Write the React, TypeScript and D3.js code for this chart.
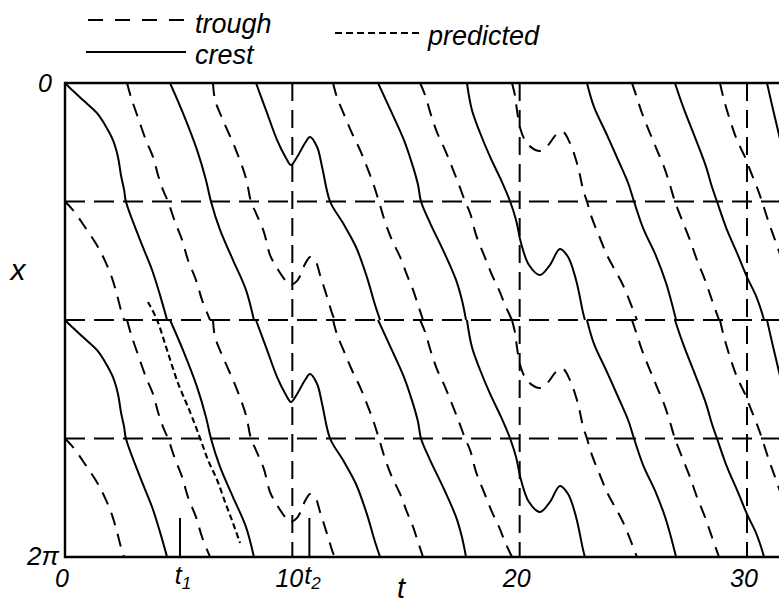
import React from "react";
import * as d3 from "d3";

// Curves for one half-period band (x from 0 to π).
// Each point is [t, x/π]. The band pattern repeats with period π in x.
const crestHalf: [number, number][][] = [
  [[0, 0], [0.22, 0.021], [0.79, 0.072], [1.41, 0.127], [1.76, 0.177], [2.11, 0.241], [2.33, 0.312], [2.46, 0.388], [2.6, 0.451], [2.68, 0.5], [3.3, 0.662], [3.83, 0.789], [4.18, 0.895], [4.49, 1.0]],
  [[4.62, 0], [5.19, 0.127], [5.81, 0.283], [6.2, 0.409], [6.42, 0.5], [6.82, 0.62], [7.39, 0.747], [7.96, 0.873], [8.31, 1.0]],
  [[8.4, 0], [8.89, 0.127], [9.33, 0.241], [9.72, 0.316], [9.94, 0.346], [10.21, 0.312], [10.56, 0.253], [10.78, 0.228], [11.09, 0.27], [11.31, 0.354], [11.66, 0.5], [12.23, 0.591], [12.8, 0.692], [13.28, 0.819], [13.64, 0.937], [13.86, 1.0]],
  [[13.77, 0], [14.38, 0.127], [14.91, 0.241], [15.31, 0.354], [15.53, 0.43], [15.66, 0.5], [16.06, 0.591], [16.63, 0.705], [17.2, 0.831], [17.46, 0.916], [17.64, 1.0]],
  [[17.68, 0], [17.9, 0.114], [18.26, 0.211], [18.7, 0.312], [19.18, 0.409], [19.58, 0.5], [19.84, 0.578], [20.06, 0.675], [20.41, 0.768], [20.89, 0.81], [21.33, 0.768], [21.77, 0.7], [22.13, 0.734], [22.48, 0.831], [22.79, 0.97], [22.87, 1.0]],
  [[22.96, 0], [23.27, 0.101], [23.8, 0.211], [24.33, 0.325], [24.77, 0.422], [25.03, 0.5], [25.43, 0.612], [26.0, 0.73], [26.44, 0.844], [26.88, 1.0]],
  [[26.83, 0], [27.19, 0.101], [27.76, 0.241], [28.2, 0.354], [28.46, 0.439], [28.68, 0.5], [29.12, 0.62], [29.56, 0.717], [30.0, 0.819], [30.4, 0.899], [30.6, 0.952], [30.75, 1.0]],
  [[30.88, 0], [31.15, 0.114], [31.41, 0.219], [31.67, 0.325]],
];

const troughHalf: [number, number][][] = [
  [[0, 0.5], [0.35, 0.536], [0.88, 0.608], [1.45, 0.692], [1.8, 0.759], [2.07, 0.823], [2.29, 0.895], [2.46, 0.958], [2.6, 1.0]],
  [[2.73, 0], [2.9, 0.059], [3.17, 0.135], [3.56, 0.241], [3.87, 0.312], [4.09, 0.388], [4.31, 0.451], [4.53, 0.5], [4.84, 0.586], [5.15, 0.662], [5.41, 0.747], [5.76, 0.831], [6.03, 0.916], [6.29, 0.979], [6.38, 1.0]],
  [[6.51, 0], [6.6, 0.072], [6.91, 0.148], [7.52, 0.283], [7.96, 0.401], [8.18, 0.5], [8.4, 0.549], [8.75, 0.629], [9.02, 0.726], [9.33, 0.781], [9.68, 0.831], [9.9, 0.852], [10.21, 0.835], [10.56, 0.764], [10.78, 0.734], [11.0, 0.747], [11.22, 0.81], [11.53, 0.903], [11.79, 0.983], [11.88, 1.0]],
  [[11.79, 0], [11.96, 0.059], [12.32, 0.143], [12.62, 0.211], [12.98, 0.283], [13.28, 0.354], [13.55, 0.422], [13.81, 0.5], [14.08, 0.586], [14.38, 0.662], [14.74, 0.734], [15.04, 0.81], [15.31, 0.873], [15.53, 0.937], [15.75, 1.0]],
  [[15.62, 0], [15.84, 0.051], [16.1, 0.135], [16.36, 0.207], [16.72, 0.283], [17.02, 0.354], [17.33, 0.43], [17.6, 0.5], [17.82, 0.549], [18.08, 0.641], [18.48, 0.738], [18.78, 0.81], [19.09, 0.873], [19.36, 0.937], [19.66, 1.0]],
  [[19.66, 0], [19.79, 0.051], [19.88, 0.114], [20.02, 0.19], [20.23, 0.241], [20.54, 0.274], [20.89, 0.287], [21.25, 0.262], [21.6, 0.219], [21.91, 0.207], [22.21, 0.253], [22.48, 0.325], [22.65, 0.388], [22.79, 0.451], [22.96, 0.5], [23.18, 0.57], [23.53, 0.654], [23.84, 0.726], [24.19, 0.789], [24.5, 0.844], [24.77, 0.903], [24.99, 0.958], [25.16, 1.0]],
  [[24.94, 0], [25.12, 0.051], [25.38, 0.127], [25.73, 0.211], [26.04, 0.283], [26.35, 0.354], [26.61, 0.43], [26.83, 0.5], [27.14, 0.578], [27.49, 0.662], [27.8, 0.747], [28.15, 0.831], [28.46, 0.916], [28.77, 1.0]],
  [[28.81, 0], [28.99, 0.072], [29.25, 0.156], [29.56, 0.241], [29.91, 0.312], [30.22, 0.388], [30.48, 0.451], [30.66, 0.5], [30.92, 0.578], [31.23, 0.662], [31.54, 0.747]],
];

// predicted trough path (lower band only)
const predicted: [number, number][] = [
  [3.65, 0.924], [4.05, 1.0], [4.49, 1.127], [4.97, 1.266], [5.5, 1.388], [5.94, 1.498], [6.29, 1.591], [6.69, 1.675], [7.04, 1.768], [7.39, 1.857], [7.7, 1.941],
];

const periodOffsets = [0, 1];
const gridT = [10, 20, 30];
const gridX = [0.5, 1, 1.5];
const tTicks = [0, 10, 20, 30];
const markers = [
  { t: 5.06, sub: "1" },
  { t: 10.75, sub: "2" },
];

const FONT = "'Liberation Sans', Arial, sans-serif";

export default function App() {
  const W = 779;
  const H = 604;
  const left = 65;
  const right = 779;
  const top = 83;
  const bottom = 557;

  const tScale = d3.scaleLinear().domain([0, 30]).range([65, 747]);
  const xScale = d3.scaleLinear().domain([0, 2]).range([top, bottom]);

  const line = d3
    .line<[number, number]>()
    .x((d) => tScale(d[0]))
    .y((d) => xScale(d[1]))
    .curve(d3.curveCatmullRom.alpha(0.5));

  const shifted = (c: [number, number][], off: number) =>
    line(c.map(([t, x]) => [t, x + off] as [number, number])) || "";

  return (
    <svg
      width={W}
      height={H}
      style={{ position: "absolute", left: 0, top: 0, background: "#fff" }}
      fontFamily={FONT}
    >
      <defs>
        <clipPath id="plot">
          <rect x={left} y={top} width={right - left} height={bottom - top} />
        </clipPath>
      </defs>

      {/* legend */}
      <line x1={88} x2={186} y1={20} y2={20} stroke="#000" strokeWidth={2.2} strokeDasharray="15 12" />
      <text x={195} y={33} fontSize={27} fontStyle="italic">trough</text>
      <line x1={86} x2={186} y1={52} y2={52} stroke="#000" strokeWidth={2.2} />
      <text x={195} y={64} fontSize={27} fontStyle="italic">crest</text>
      <line x1={335} x2={421} y1={33} y2={33} stroke="#000" strokeWidth={2.2} strokeDasharray="7 4" />
      <text x={428} y={45} fontSize={27} fontStyle="italic">predicted</text>

      <g clipPath="url(#plot)" fill="none" stroke="#000">
        {/* grid */}
        {gridX.map((g) => (
          <line key={"gx" + g} x1={left} x2={right} y1={xScale(g)} y2={xScale(g)} strokeWidth={2} strokeDasharray="20 9" />
        ))}
        {gridT.map((g) => (
          <line key={"gt" + g} x1={tScale(g)} x2={tScale(g)} y1={top} y2={bottom} strokeWidth={2} strokeDasharray="18 9" />
        ))}
        {/* troughs */}
        {periodOffsets.map((off) =>
          troughHalf.map((c, i) => (
            <path key={`tr${off}-${i}`} d={shifted(c, off)} strokeWidth={2} strokeDasharray="13 9" />
          ))
        )}
        {/* crests */}
        {periodOffsets.map((off) =>
          crestHalf.map((c, i) => <path key={`cr${off}-${i}`} d={shifted(c, off)} strokeWidth={2} />)
        )}
        {/* predicted */}
        <path d={line(predicted) || ""} strokeWidth={2.1} strokeDasharray="6 3.5" />
        {/* t1, t2 markers */}
        {markers.map((m) => (
          <line key={"m" + m.sub} x1={tScale(m.t)} x2={tScale(m.t)} y1={bottom} y2={bottom - 39} strokeWidth={2} />
        ))}
      </g>

      {/* frame */}
      <path
        d={`M${right},${top} H${left} V${bottom} H${right}`}
        fill="none"
        stroke="#000"
        strokeWidth={2.4}
      />

      {/* y labels */}
      <text x={45} y={92} fontSize={25} fontStyle="italic" textAnchor="middle">0</text>
      <text x={43} y={565} fontSize={26} fontStyle="italic" textAnchor="middle">2π</text>
      <text x={18} y={280} fontSize={30} fontStyle="italic" textAnchor="middle">x</text>

      {/* t ticks */}
      {tTicks.map((t) => (
        <text key={"tt" + t} x={tScale(t) - 3} y={587} fontSize={25} fontStyle="italic" textAnchor="middle">
          {t}
        </text>
      ))}
      {markers.map((m) => (
        <text key={"ml" + m.sub} x={tScale(m.t) + 3} y={584} fontSize={25} fontStyle="italic" textAnchor="middle">
          t<tspan fontSize={17} dy={5}>{m.sub}</tspan>
        </text>
      ))}
      <text x={401} y={598} fontSize={29} fontStyle="italic" textAnchor="middle">t</text>
    </svg>
  );
}
